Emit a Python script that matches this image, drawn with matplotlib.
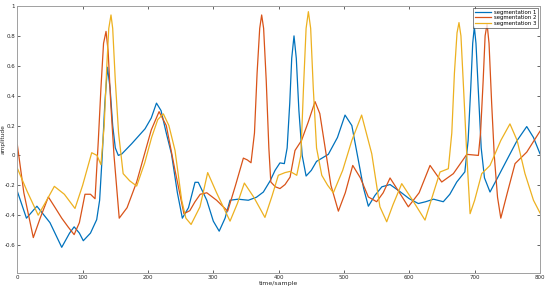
import matplotlib
matplotlib.use("Agg")
import matplotlib.pyplot as plt

# segmentation 1 (blue)
x1 = [0, 14, 30, 50, 68, 80, 87, 95, 101, 112, 121.5, 126, 130, 134, 138, 142, 146, 150, 154.6, 160,
      175, 195.5, 205, 213, 220, 228, 236, 245, 252.6, 262, 272, 277, 290, 300, 309, 318, 325.6, 338,
      353.6, 366, 376.6, 387, 394.5, 402, 408.7, 413, 417, 420, 423.5, 427, 431, 436, 442, 450, 458,
      476, 490, 501.6, 512, 522, 530, 537.3, 547.5, 558, 570.5, 585, 600, 613.8, 625, 637, 652, 662,
      672.6, 685, 690, 694, 697, 699.5, 702, 706, 710, 715, 723.5, 735, 751.6, 765, 779.7, 790, 800]
y1 = [-0.24, -0.42, -0.34, -0.45, -0.615, -0.52, -0.478, -0.52, -0.571, -0.52, -0.43, -0.3, 0.0, 0.35, 0.59,
      0.45, 0.2, 0.05, 0.0, 0.01, 0.078, 0.178, 0.25, 0.35, 0.3, 0.15, 0.01, -0.25, -0.42, -0.35, -0.18,
      -0.18, -0.3, -0.44, -0.507, -0.42, -0.30, -0.293, -0.30, -0.28, -0.245, -0.17, -0.10, -0.05, -0.055,
      0.05, 0.35, 0.65, 0.80, 0.65, 0.3, 0.0, -0.138, -0.1, -0.04, 0.007, 0.12, 0.27, 0.2, -0.033, -0.22,
      -0.34, -0.267, -0.21, -0.195, -0.24, -0.29, -0.322, -0.31, -0.293, -0.31, -0.26, -0.178, -0.11,
      0.1, 0.45, 0.75, 0.86, 0.75, 0.4, 0.05, -0.15, -0.245, -0.15, -0.011, 0.1, 0.193, 0.12, 0.011]

# segmentation 2 (red)
x2 = [0, 10, 24.5, 35, 47.5, 58, 68, 78, 87, 95, 103.6, 112, 119, 124, 128, 132, 135.8, 139, 143, 148,
      156, 168, 182.7, 195.5, 205, 217, 228, 241.4, 255, 264, 272, 280, 290, 305, 322, 334, 346, 352,
      357.7, 363, 367, 371, 374, 377, 381, 385, 388, 395, 402, 409.8, 417.5, 425, 435, 445, 455.7, 463,
      471, 480, 491.4, 502, 513.4, 525, 537.3, 550, 560, 570.5, 585, 598.5, 615, 631.7, 649.6, 667.4,
      688, 705.7, 709, 713, 716, 719, 722, 726, 730, 735, 740, 750, 761.8, 779.7, 800]
y2 = [0.073, -0.25, -0.55, -0.42, -0.278, -0.35, -0.42, -0.48, -0.53, -0.45, -0.26, -0.26, -0.29, 0.1,
      0.45, 0.75, 0.83, 0.7, 0.35, 0.0, -0.42, -0.35, -0.178, 0.022, 0.17, 0.293, 0.2, -0.10, -0.39,
      -0.37, -0.31, -0.26, -0.25, -0.3, -0.373, -0.2, -0.018, -0.03, -0.049, 0.15, 0.55, 0.85, 0.94, 0.85,
      0.5, 0.05, -0.178, -0.21, -0.222, -0.195, -0.145, 0.033, 0.1, 0.22, 0.36, 0.28, 0.055, -0.2, -0.373,
      -0.25, -0.067, -0.15, -0.278, -0.31, -0.25, -0.151, -0.25, -0.344, -0.25, -0.067, -0.178, -0.122,
      0.007, 0.0, 0.15, 0.5, 0.8, 0.88, 0.75, 0.35, 0.0, -0.28, -0.42, -0.25, -0.055, 0.022, 0.162]

# segmentation 3 (yellow)
x3 = [0, 15, 32, 45, 56.7, 72, 88.3, 100, 113.9, 122, 128, 133, 137, 140, 143.4, 146, 150, 155, 162,
      172, 182.7, 195, 205.7, 215, 223.5, 232, 241.4, 251.6, 258, 266, 279.6, 291.4, 305, 325.6, 337,
      347.5, 362, 379, 390, 399.5, 409.8, 417.5, 427.7, 434, 438, 442, 445.5, 449, 453, 458, 466, 475,
      483.7, 498, 512, 527, 542.5, 555, 565.4, 575, 588.4, 605, 624, 637, 647, 659.7, 665, 669, 673, 676,
      679, 683, 688, 693, 700, 710.8, 723.5, 740, 754, 765, 777, 790, 800]
y3 = [-0.085, -0.24, -0.40, -0.3, -0.207, -0.26, -0.355, -0.2, 0.018, 0.0, -0.062, 0.2, 0.6, 0.85, 0.94,
      0.85, 0.5, 0.15, -0.122, -0.17, -0.205, -0.05, 0.122, 0.24, 0.278, 0.2, 0.033, -0.30, -0.42, -0.462,
      -0.344, -0.115, -0.25, -0.44, -0.32, -0.185, -0.28, -0.415, -0.27, -0.133, -0.115, -0.107, -0.133,
      0.0, 0.45, 0.85, 0.962, 0.85, 0.45, 0.05, -0.133, -0.2, -0.25, -0.1, 0.1, 0.27, 0.011, -0.344,
      -0.444, -0.33, -0.189, -0.3, -0.433, -0.25, -0.111, -0.089, 0.15, 0.55, 0.82, 0.889, 0.8, 0.45, 0.0,
      -0.39, -0.3, -0.122, -0.067, 0.1, 0.211, 0.1, -0.122, -0.3, -0.385]

labels = ["segmentation 1", "segmentation 2", "segmentation 3"]
colors = ["#0072BD", "#D95319", "#EDB120"]

xticks = [0, 100, 200, 300, 400, 500, 600, 700, 800]
yticks = [-0.6, -0.4, -0.2, 0, 0.2, 0.4, 0.6, 0.8, 1]
ytick_labels = ["-0.6", "-0.4", "-0.2", "0", "0.2", "0.4", "0.6", "0.8", "1"]

fig = plt.figure(figsize=(5.5, 2.92), dpi=100)
ax = fig.add_axes([17.3 / 550, 19 / 292, (540 - 17.3) / 550, (273 - 6) / 292])

for xs, ys, lab, c in zip([x1, x2, x3], [y1, y2, y3], labels, colors):
    ax.plot(xs, ys, color=c, lw=0.9, label=lab)

ax.set_xlim(0, 800)
ax.set_ylim(-0.787, 1.0)
ax.set_xticks(xticks)
ax.set_xticklabels([str(t) for t in xticks])
ax.set_yticks(yticks)
ax.set_yticklabels(ytick_labels)
ax.tick_params(direction="in", length=2.5, width=0.5, labelsize=4.0, colors="#262626",
               top=True, right=True, pad=1.5)
for sp in ax.spines.values():
    sp.set_color("#a0a0a0")
    sp.set_linewidth(0.7)
ax.set_xlabel("time/sample", fontsize=4.5, color="#262626", labelpad=0.5)
ax.set_ylabel("amplitude", fontsize=4.2, color="#262626")
ax.yaxis.set_label_coords(-0.022, 0.5)
leg = ax.legend(loc="upper right", fontsize=3.9, frameon=True, fancybox=False,
                borderpad=0.35, handlelength=3.0, handletextpad=0.5, labelspacing=0.1,
                borderaxespad=0.35)
leg.get_frame().set_edgecolor("#262626")
leg.get_frame().set_linewidth(0.5)
fig.savefig("out.png", dpi=100)
